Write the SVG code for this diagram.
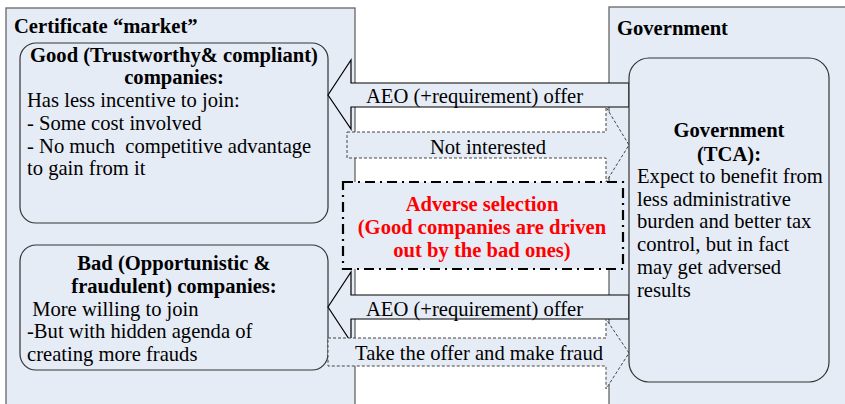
<svg xmlns="http://www.w3.org/2000/svg" width="845" height="404" viewBox="0 0 845 404" font-family="'Liberation Serif', 'Times New Roman', Times, serif">
<style>
text{font-family:'Liberation Serif','Times New Roman',Times,serif;font-size:20.6px;fill:#000;white-space:pre}
.b{font-weight:bold}
.c{text-anchor:middle}
.red{fill:#ff0000;font-weight:bold;text-anchor:middle}
.cont{fill:#e6ecf6;stroke:#666;stroke-width:1.3}
.box{fill:#e6ecf6;stroke:#333;stroke-width:1.2}
.arrow{fill:#e6ecf6;stroke:#000;stroke-width:1.2;stroke-linejoin:miter}
.darrow{fill:#e6ecf6;stroke:#444;stroke-width:1;stroke-dasharray:3 2}
.adv{fill:#e6ecf6;stroke:#000;stroke-width:2.2;stroke-dasharray:10 5 2 5}
</style>
<rect width="845" height="404" fill="#fff"/>
<g id="market">
<rect class="cont" x="6" y="8" width="349" height="420"/>
<text class="b" x="14" y="33">Certificate “market”</text>
</g>
<g id="government">
<rect class="cont" x="609" y="7" width="260" height="420"/>
<text class="b" x="617" y="35">Government</text>
</g>
<g id="good">
<rect class="box" x="20" y="43" width="308" height="180" rx="16"/>
<text class="b c" x="174" y="62">Good (Trustworthy&amp; compliant)</text>
<text class="b c" x="174" y="84">companies:</text>
<text x="27" y="107">Has less incentive to join:</text>
<text x="27" y="130">- Some cost involved</text>
<text x="27" y="153">- No much  competitive advantage</text>
<text x="27" y="175">to gain from it</text>
</g>
<g id="bad">
<rect class="box" x="20" y="245" width="308" height="125" rx="16"/>
<text class="b c" x="174" y="270">Bad (Opportunistic &amp;</text>
<text class="b c" x="174" y="293">fraudulent) companies:</text>
<text x="27" y="316"> More willing to join</text>
<text x="27" y="338">-But with hidden agenda of</text>
<text x="27" y="361">creating more frauds</text>
</g>
<g id="connectors">
<polygon class="arrow" points="629,83 351,83 351,60 328,95 351,129 351,107 629,107"/>
<text x="366" y="103">AEO (+requirement) offer</text>
<polygon class="darrow" points="347,132 606,132 606,107 629,145 606,182 606,158 347,158"/>
<text class="c" x="488" y="154">Not interested</text>
<polygon class="arrow" points="629,295 351,295 351,272 328,307 351,342 351,319 629,319"/>
<text x="366" y="316">AEO (+requirement) offer</text>
<polygon class="darrow" points="328,338 606,338 606,319 629,353 606,389 606,366 328,366"/>
<text x="355" y="360">Take the offer and make fraud</text>
</g>
<g id="adverse">
<rect class="adv" x="343" y="182" width="280" height="87"/>
<text class="red" x="482" y="211">Adverse selection</text>
<text class="red" x="482" y="234">(Good companies are driven</text>
<text class="red" x="482" y="257">out by the bad ones)</text>
</g>
<g id="tca">
<rect class="box" x="629" y="58" width="200" height="324" rx="20"/>
<text class="b c" x="729" y="137">Government</text>
<text class="b c" x="729" y="161">(TCA):</text>
<text x="637" y="183">Expect to benefit from</text>
<text x="637" y="206">less administrative</text>
<text x="637" y="228">burden and better tax</text>
<text x="637" y="251">control, but in fact</text>
<text x="637" y="274">may get adversed</text>
<text x="637" y="297">results</text>
</g>
</svg>
